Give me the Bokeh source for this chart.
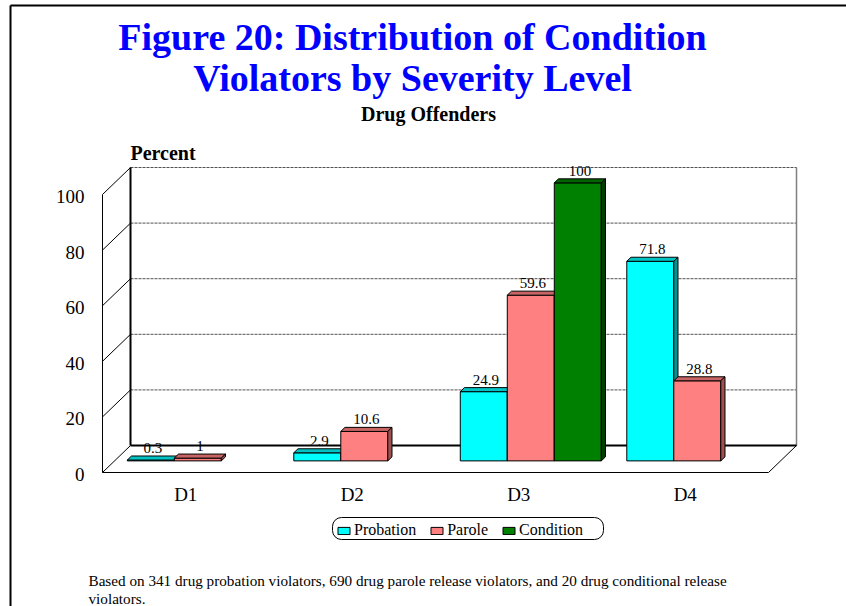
import math

from bokeh.core.properties import value
from bokeh.embed import file_html
from bokeh.models import BoxAnnotation, ColumnDataSource, Label, Legend, LegendItem, Range1d
from bokeh.plotting import figure
from bokeh.resources import INLINE

# ---- data -------------------------------------------------------------
categories = ["D1", "D2", "D3", "D4"]
series_names = ["Probation", "Parole", "Condition"]
probation = [0.3, 2.9, 24.9, 71.8]
parole = [1.0, 10.6, 59.6, 28.8]
condition = [None, None, 100.0, None]
y_ticks = [0, 20, 40, 60, 80, 100]
y_tick_labels = ["0", "20", "40", "60", "80", "100"]

title_lines = ["Figure 20: Distribution of Condition", "Violators by Severity Level"]
subtitle = "Drug Offenders"
axis_title = "Percent"
footnote_lines = [
    "Based on 341 drug probation violators, 690 drug parole release violators, "
    "and 20 drug conditional  release",
    "violators.",
]

# ---- style ------------------------------------------------------------
FONT = "Liberation Serif"
# front, top and side face colours of each series
face_colors = {
    "Probation": ("#00FFFF", "#00C4C4", "#009494"),
    "Parole": ("#FF8080", "#C86464", "#A05050"),
    "Condition": ("#008000", "#006400", "#004000"),
}

# ---- layout geometry (pixels) -----------------------------------------
W, H = 846, 606
X0, Y0 = 102, 472          # front-left corner of the floor
CAT_PX = 166.5             # width of one category on the floor
VAL_PX = 2.78              # pixels per percent
DEPTH_PX = (28, 27)        # depth offset of the back wall


def px_x(px):
    return (px - X0) / CAT_PX


def px_y(py):
    return (Y0 - py) / VAL_PX


DX = DEPTH_PX[0] / CAT_PX
DY = DEPTH_PX[1] / VAL_PX
N = len(categories)
VMAX = y_ticks[-1]

BAR_W = 47 / CAT_PX
GROUP_PAD = (1 - len(series_names) * BAR_W) / 2
FRONT = 0.43               # depth position of the bars' front faces
BAR_DEPTH = 0.15           # depth of the bars themselves
FDX, FDY = FRONT * DX, FRONT * DY
BDX, BDY = BAR_DEPTH * DX, BAR_DEPTH * DY

p = figure(
    width=W, height=H,
    x_range=Range1d(px_x(0), px_x(W)),
    y_range=Range1d(px_y(H), px_y(0)),
    output_backend="svg", toolbar_location=None, title=None,
    x_axis_location=None, y_axis_location=None,
    min_border=0, outline_line_color=None,
    background_fill_color="white", border_fill_color="white",
)
p.xgrid.visible = False
p.ygrid.visible = False

# ---- walls and floor --------------------------------------------------
grid_vals = y_ticks[1:]
p.segment(x0=[DX] * len(grid_vals), y0=[v + DY for v in grid_vals],
          x1=[N + DX] * len(grid_vals), y1=[v + DY for v in grid_vals],
          line_color="#505050", line_width=1, line_dash="3 1")
# left wall: diagonals from the front axis to the back wall
p.segment(x0=[0] * len(y_ticks), y0=y_ticks,
          x1=[DX] * len(y_ticks), y1=[v + DY for v in y_ticks],
          line_color="black", line_width=1)
# right edge of the back wall
p.segment(x0=[N + DX], y0=[DY], x1=[N + DX], y1=[VMAX + DY],
          line_color="#808080", line_width=1.5)
# back-left corner and back floor edge
p.segment(x0=[DX, DX], y0=[DY, DY], x1=[DX, N + DX], y1=[VMAX + DY, DY],
          line_color="black", line_width=2)
# front axis, floor front edge and floor right edge
p.segment(x0=[0, 0, N], y0=[0, 0, 0], x1=[0, N, N + DX], y1=[VMAX, 0, DY],
          line_color="black", line_width=1)

# ---- bars -------------------------------------------------------------
series_values = [probation, parole, condition]
legend_items = []
for k, (name, vals) in enumerate(zip(series_names, series_values)):
    front, top_c, side_c = face_colors[name]
    left, right, bottom, top = [], [], [], []
    top_xs, top_ys, side_xs, side_ys = [], [], [], []
    lx, ly, lt = [], [], []
    for i, v in enumerate(vals):
        if v is None:
            continue
        l = i + GROUP_PAD + k * BAR_W + FDX
        r = l + BAR_W
        b = FDY
        t = v + FDY
        left.append(l); right.append(r); bottom.append(b); top.append(t)
        top_xs.append([l, r, r + BDX, l + BDX])
        top_ys.append([t, t, t + BDY, t + BDY])
        side_xs.append([r, r + BDX, r + BDX, r])
        side_ys.append([b, b + BDY, t + BDY, t])
        lx.append((l + r) / 2 + BDX / 2)
        ly.append(t + BDY)
        lt.append(f"{v:g}")
    fr = p.quad(left=left, right=right, bottom=bottom, top=top,
                fill_color=front, line_color="black", line_width=1)
    p.patches(xs=top_xs, ys=top_ys, fill_color=top_c, line_color="black", line_width=1)
    p.patches(xs=side_xs, ys=side_ys, fill_color=side_c, line_color="black", line_width=1)
    p.text(x=lx, y=ly, text=lt, text_align="center", text_baseline="alphabetic",
           y_offset=-8, text_font=value(FONT), text_font_size="15px", text_color="black")
    legend_items.append(LegendItem(label=name, renderers=[fr]))

# ---- axis labels ------------------------------------------------------
p.text(x=[0] * len(y_ticks), y=y_ticks, text=y_tick_labels,
       text_align="right", text_baseline="middle", x_offset=-18, y_offset=2,
       text_font=value(FONT), text_font_size="19px", text_color="black")
p.text(x=[i + 0.5 for i in range(N)], y=[0] * N, text=categories,
       text_align="center", text_baseline="middle", y_offset=22,
       text_font=value(FONT), text_font_size="19px", text_color="black")

# ---- titles and notes -------------------------------------------------
for line, cy in zip(title_lines, [36, 77]):
    p.add_layout(Label(x=px_x(412), y=px_y(cy), text=line, text_align="center",
                       text_baseline="middle", text_font=FONT, text_font_style="bold",
                       text_font_size="38px", text_color="#0000FF"))
p.add_layout(Label(x=px_x(428), y=px_y(113), text=subtitle, text_align="center",
                   text_baseline="middle", text_font=FONT, text_font_style="bold",
                   text_font_size="20px", text_color="black"))
p.add_layout(Label(x=px_x(130), y=px_y(152), text=axis_title, text_align="left",
                   text_baseline="middle", text_font=FONT, text_font_style="bold",
                   text_font_size="20px", text_color="black"))
for line, cy in zip(footnote_lines, [580, 598]):
    p.add_layout(Label(x=px_x(88), y=px_y(cy), text=line, text_align="left",
                       text_baseline="middle", text_font=FONT,
                       text_font_size="15.2px", text_color="black"))

# outer frame: top and left edges
p.segment(x0=[px_x(10), px_x(10)], y0=[px_y(5), px_y(5)],
          x1=[px_x(W + 10), px_x(10)], y1=[px_y(5), px_y(H + 10)],
          line_color="black", line_width=2)

# ---- legend -----------------------------------------------------------
legend_box = BoxAnnotation(left=px_x(332), right=px_x(603), top=px_y(517), bottom=px_y(539),
                           fill_color="white", fill_alpha=1,
                           line_color="black", line_alpha=1, line_width=1)
if "border_radius" in BoxAnnotation.properties():
    legend_box.border_radius = 9
p.add_layout(legend_box)

legend = Legend(items=legend_items, orientation="horizontal", location=(336, 67),
                border_line_color=None, background_fill_alpha=0,
                padding=3, spacing=13, margin=0, label_standoff=3,
                glyph_width=15, glyph_height=9, label_height=16,
                label_text_font=FONT, label_text_font_size="16px",
                label_text_color="black")
p.add_layout(legend)

open("out.html", "w").write(file_html(p, INLINE))
